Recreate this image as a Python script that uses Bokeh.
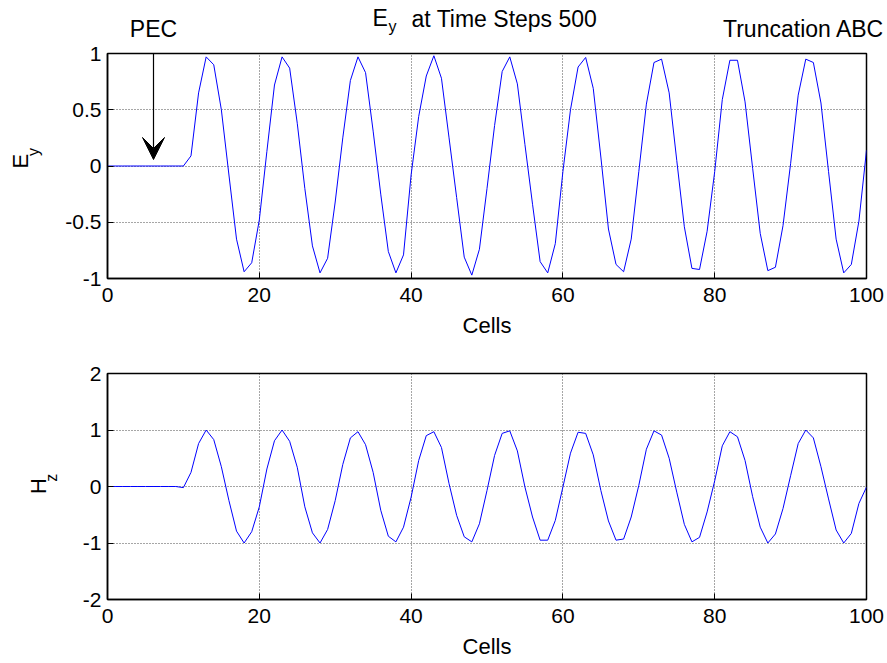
import math
from bokeh.plotting import figure
from bokeh.models import Label, Arrow, VeeHead, FixedTicker, Range1d
from bokeh.layouts import column, row
from bokeh.embed import file_html
from bokeh.resources import INLINE

# ---------------- data ----------------
cells = list(range(0, 101))

ey = [0, 0, 0, 0, 0, 0, 0, 0, 0, 0, 0,
      0.09, 0.65, 0.97, 0.90, 0.50, -0.08, -0.65, -0.94, -0.86, -0.48,
      0.13, 0.72, 0.97, 0.87, 0.38, -0.20, -0.71, -0.95, -0.82, -0.32,
      0.25, 0.76, 0.97, 0.83, 0.31, -0.25, -0.76, -0.95, -0.79, -0.08,
      0.44, 0.80, 0.98, 0.78, 0.25, -0.28, -0.81, -0.97, -0.74, -0.20,
      0.36, 0.84, 0.97, 0.73, 0.19, -0.34, -0.85, -0.95, -0.69, -0.05,
      0.50, 0.88, 0.965, 0.69, 0.08, -0.56, -0.875, -0.94, -0.65, -0.05,
      0.55, 0.92, 0.95, 0.65, 0.05, -0.54, -0.91, -0.92, -0.58, -0.05,
      0.59, 0.94, 0.94, 0.57, -0.02, -0.60, -0.93, -0.90, -0.53, 0.02,
      0.63, 0.95, 0.92, 0.56, -0.05, -0.65, -0.95, -0.875, -0.49, 0.14]

hz = [0, 0, 0, 0, 0, 0, 0, 0, 0, 0, -0.02,
      0.25, 0.76, 1.0, 0.83, 0.35, -0.25, -0.79, -1.0, -0.80, -0.36,
      0.31, 0.81, 1.0, 0.80, 0.34, -0.36, -0.82, -1.0, -0.76, -0.25,
      0.39, 0.86, 0.97, 0.74, 0.25, -0.42, -0.88, -0.98, -0.72, -0.19,
      0.46, 0.90, 0.97, 0.69, 0.05, -0.51, -0.89, -0.98, -0.66, -0.07,
      0.55, 0.94, 0.985, 0.63, -0.01, -0.54, -0.95, -0.95, -0.60, -0.01,
      0.59, 0.96, 0.94, 0.56, -0.07, -0.61, -0.95, -0.93, -0.54, 0.02,
      0.66, 0.985, 0.91, 0.50, -0.10, -0.67, -0.98, -0.90, -0.45, 0.10,
      0.72, 0.97, 0.88, 0.46, -0.18, -0.72, -1.0, -0.84, -0.39, 0.19,
      0.76, 1.0, 0.86, 0.35, -0.22, -0.77, -1.0, -0.83, -0.30, -0.01]

x_ticks = [0, 20, 40, 60, 80, 100]
ey_ticks = [-1, -0.5, 0, 0.5, 1]
ey_tick_labels = ["-1", "-0.5", "0", "0.5", "1"]
hz_ticks = [-2, -1, 0, 1, 2]
hz_tick_labels = ["-2", "-1", "0", "1", "2"]

title_main = "at Time Steps 500"
x_label = "Cells"
pec_text = "PEC"
abc_text = "Truncation ABC"

# ---------------- style / layout (page pixels) ----------------
FONT = "Liberation Sans"
FS = "21px"
TXT_FS = "23px"
LBL_FS = "22px"
SUB_FS = "16px"
BLUE = "#0000ff"
TOTAL_W = 884
HEADER_H = 41
LEFT_W = 60
FRAME_L, FRAME_R = 107, 866
TOP_T, TOP_B = 53, 278
BOT_T, BOT_B = 373, 599
SPLIT = 340
BOTTOM = 663


def text_canvas(width, height, top):
    """A plain figure whose frame fills it; data units are pixels (y measured up)."""
    f = figure(width=width, height=height, min_border=0,
               x_range=Range1d(0, width), y_range=Range1d(0, height),
               x_axis_location=None, y_axis_location=None,
               output_backend="svg", toolbar_location=None, tools="")
    f.outline_line_color = None
    f.grid.visible = False
    f.background_fill_color = "white"
    f.border_fill_color = "white"

    def put(t, X, Y, size=TXT_FS, align="left", angle=0.0):
        # X, Y: page pixels of the text's vertical middle (Y measured from page top)
        f.add_layout(Label(x=X, y=top + height - Y, text=t, text_font=FONT,
                           text_font_size=size, text_align=align,
                           text_baseline="middle", angle=angle, text_color="black"))
    return f, put


def make_panel(y_lo, y_hi, yticks, ylabels, fig_top, frame_t, frame_b, fig_bot):
    p = figure(frame_width=FRAME_R - FRAME_L, frame_height=frame_b - frame_t,
               min_border_left=FRAME_L - LEFT_W, min_border_right=TOTAL_W - FRAME_R,
               min_border_top=frame_t - fig_top, min_border_bottom=fig_bot - frame_b,
               x_range=Range1d(0, 100), y_range=Range1d(y_lo, y_hi),
               output_backend="svg", toolbar_location=None, tools="")
    p.background_fill_color = "white"
    p.border_fill_color = "white"
    p.outline_line_color = "black"
    p.outline_line_width = 1.5

    p.xaxis.ticker = FixedTicker(ticks=x_ticks)
    p.yaxis.ticker = FixedTicker(ticks=yticks)
    p.xaxis.major_label_overrides = {t: str(t) for t in x_ticks}
    p.yaxis.major_label_overrides = {t: l for t, l in zip(yticks, ylabels)}
    for ax in (p.xaxis[0], p.yaxis[0]):
        ax.major_tick_in = 6
        ax.major_tick_out = 0
        ax.minor_tick_line_color = None
        ax.axis_line_width = 1.5
        ax.axis_line_color = "black"
        ax.major_tick_line_color = "black"
        ax.major_label_text_font = FONT
        ax.major_label_text_font_size = FS
        ax.major_label_text_color = "black"
    p.xaxis.major_label_standoff = 9
    p.yaxis.major_label_standoff = 6
    p.xaxis.axis_label = x_label
    p.xaxis.axis_label_text_font = FONT
    p.xaxis.axis_label_text_font_size = LBL_FS
    p.xaxis.axis_label_text_font_style = "normal"
    p.xaxis.axis_label_text_color = "black"
    p.xaxis.axis_label_standoff = 8

    for g in (p.xgrid[0], p.ygrid[0]):
        g.grid_line_color = "black"
        g.grid_line_alpha = 0.7
        g.grid_line_dash = "1 2"
        g.grid_line_width = 1

    def xd(X):
        return (X - FRAME_L) / (FRAME_R - FRAME_L) * 100.0

    def yd(Y):
        return y_hi - (Y - frame_t) / (frame_b - frame_t) * (y_hi - y_lo)

    return p, xd, yd


# ---------------- header: title and annotations ----------------
header, put_h = text_canvas(TOTAL_W, HEADER_H, 0)
put_h("E", 372, 17)
put_h("y", 388, 26, size=SUB_FS)
put_h(title_main, 411, 18)
put_h(pec_text, 153, 28, align="center")
put_h(abc_text, 884, 28, align="right")

# ---------------- top panel: Ey ----------------
p1, xd1, yd1 = make_panel(-1, 1, ey_ticks, ey_tick_labels, HEADER_H, TOP_T, TOP_B, SPLIT)
p1.line(cells, ey, line_color=BLUE, line_width=1)
p1.add_layout(Arrow(end=VeeHead(size=22, fill_color="black", line_color="black"),
                    x_start=xd1(153), y_start=yd1(TOP_T), x_end=xd1(153), y_end=yd1(159),
                    line_color="black", line_width=1.2))

left1, put_l1 = text_canvas(LEFT_W, SPLIT - HEADER_H, HEADER_H)
put_l1("E", 20, 184, size=LBL_FS, align="center", angle=math.pi / 2)
put_l1("y", 33, 172, size=SUB_FS, align="center", angle=math.pi / 2)

# ---------------- bottom panel: Hz ----------------
p2, xd2, yd2 = make_panel(-2, 2, hz_ticks, hz_tick_labels, SPLIT, BOT_T, BOT_B, BOTTOM)
p2.line(cells, hz, line_color=BLUE, line_width=1)

left2, put_l2 = text_canvas(LEFT_W, BOTTOM - SPLIT, SPLIT)
put_l2("H", 38, 501, size=LBL_FS, align="center", angle=math.pi / 2)
put_l2("z", 51, 489, size=SUB_FS, align="center", angle=math.pi / 2)

layout = column(header, row(left1, p1, spacing=0), row(left2, p2, spacing=0), spacing=0)
open("out.html", "w").write(file_html(layout, INLINE))
